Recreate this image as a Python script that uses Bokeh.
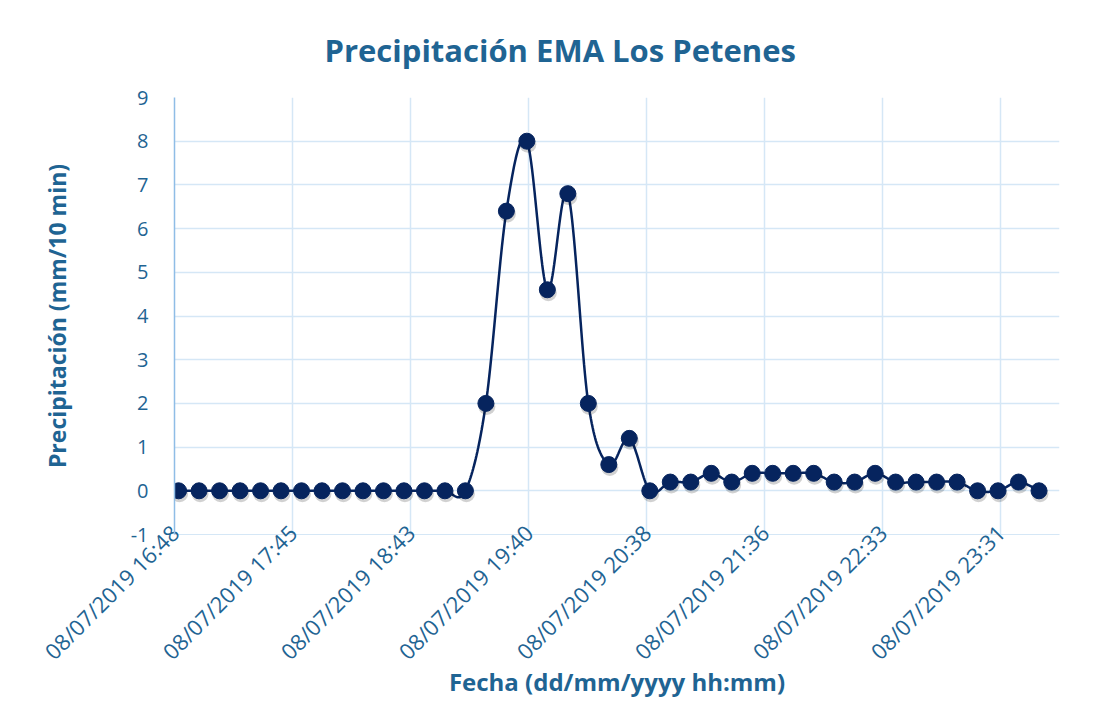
import math
import numpy as np
import pandas as pd
from bokeh.plotting import figure
from bokeh.models import FixedTicker, Range1d, ColumnDataSource
from bokeh.embed import file_html
from bokeh.resources import INLINE

# ---------------- data ----------------
date = "2019-07-08"
times = ["16:50", "17:00", "17:10", "17:20", "17:30", "17:40", "17:50",
         "18:00", "18:10", "18:20", "18:30", "18:40", "18:50",
         "19:00", "19:10", "19:20", "19:30", "19:40", "19:50",
         "20:00", "20:10", "20:20", "20:30", "20:40", "20:50",
         "21:00", "21:10", "21:20", "21:30", "21:40", "21:50",
         "22:00", "22:10", "22:20", "22:30", "22:40", "22:50",
         "23:00", "23:10", "23:20", "23:30", "23:40", "23:50"]
precip = [0, 0, 0, 0, 0, 0, 0,
          0, 0, 0, 0, 0, 0,
          0, 0, 2.0, 6.4, 8.0, 4.6,
          6.8, 2.0, 0.6, 1.2, 0.0, 0.2,
          0.2, 0.4, 0.2, 0.4, 0.4, 0.4,
          0.4, 0.2, 0.2, 0.4, 0.2, 0.2,
          0.2, 0.2, 0.0, 0.0, 0.2, 0.0]
tick_times = ["16:48:00", "17:45:36", "18:43:12", "19:40:48",
              "20:38:24", "21:36:00", "22:33:36", "23:31:12"]
tick_labels = ["08/07/2019 16:48", "08/07/2019 17:45", "08/07/2019 18:43",
               "08/07/2019 19:40", "08/07/2019 20:38", "08/07/2019 21:36",
               "08/07/2019 22:33", "08/07/2019 23:31"]
x_start, x_end = "16:48:00", "24:00:00"
y_ticks = list(range(-1, 10))
y_labels = [str(v) for v in y_ticks]

# ---------------- helpers ----------------
epoch = pd.Timestamp("1970-01-01")
def to_ms(hhmm):
    t = pd.Timestamp(date) + pd.to_timedelta(hhmm if hhmm.count(":") == 2 else hhmm + ":00")
    return (t - epoch) / pd.Timedelta(milliseconds=1)

xs = np.array([to_ms(h) for h in times])
ys = np.array(precip, dtype=float)
tick_ms = [to_ms(h) for h in tick_times]
x0, x1 = to_ms(x_start), to_ms(x_end)

BL, BR, BT, BB = 174, 30, 96, 180
FW, FH = 885, 438
W, H = BL + FW + BR, BT + FH + BB

# smooth (Excel-like Bezier) curve computed in screen-proportional space
sx = FW / (x1 - x0)
sy = FH / 10.0
px = (xs - x0) * sx
py = ys * sy
cx, cy = [], []
n = len(px)
for i in range(n - 1):
    p0 = (px[max(i - 1, 0)], py[max(i - 1, 0)])
    p1 = (px[i], py[i])
    p2 = (px[i + 1], py[i + 1])
    p3 = (px[min(i + 2, n - 1)], py[min(i + 2, n - 1)])
    c1 = (p1[0] + (p2[0] - p0[0]) / 6, p1[1] + (p2[1] - p0[1]) / 6)
    c2 = (p2[0] - (p3[0] - p1[0]) / 6, p2[1] - (p3[1] - p1[1]) / 6)
    for t in np.linspace(0, 1, 24, endpoint=(i == n - 2)):
        a = (1 - t) ** 3; b = 3 * (1 - t) ** 2 * t; c = 3 * (1 - t) * t ** 2; d = t ** 3
        cx.append(a * p1[0] + b * c1[0] + c * c2[0] + d * p2[0])
        cy.append(a * p1[1] + b * c1[1] + c * c2[1] + d * p2[1])
curve_x = np.array(cx) / sx + x0
curve_y = np.array(cy) / sy

# ---------------- figure ----------------
TXT = "#1f6493"
FONT = "Open Sans"
GRID = "#d5e7f6"
NAVY = "#06245e"

p = figure(width=W, height=H, x_axis_type="datetime",
           output_backend="svg", toolbar_location=None,
           x_range=Range1d(x0, x1), y_range=Range1d(-1, 9),
           min_border_left=BL, min_border_right=BR,
           min_border_top=BT, min_border_bottom=BB)
p.outline_line_color = None

p.title.text = "Precipitación EMA Los Petenes"
p.title.text_font = FONT
p.title.text_font_size = "31px"
p.title.text_font_style = "bold"
p.title.text_color = TXT
p.title.align = "left"
p.title.offset = 150
p.title.standoff = 53

p.xaxis.ticker = FixedTicker(ticks=tick_ms)
p.xaxis.major_label_overrides = {t: l for t, l in zip(tick_ms, tick_labels)}
p.xaxis.major_label_orientation = math.pi / 4
p.xaxis.axis_label = "Fecha (dd/mm/yyyy hh:mm)"
p.yaxis.ticker = FixedTicker(ticks=y_ticks)
p.yaxis.major_label_overrides = {v: s for v, s in zip(y_ticks, y_labels)}
p.yaxis.axis_label = "Precipitación (mm/10 min)"

for ax in (p.xaxis[0], p.yaxis[0]):
    ax.major_label_text_font = FONT
    ax.major_label_text_font_size = "20px"
    ax.major_label_text_color = TXT
    ax.axis_label_text_font = FONT
    ax.axis_label_text_font_size = "23px"
    ax.axis_label_text_font_style = "bold"
    ax.axis_label_text_color = TXT
    ax.major_tick_line_color = None
    ax.minor_tick_line_color = None

p.xaxis.major_label_text_font_size = "22px"
p.xaxis.axis_label_text_font_size = "24px"
p.xaxis.axis_line_color = GRID
p.xaxis.major_label_standoff = -12
p.xaxis.axis_label_standoff = -14
p.yaxis.axis_line_color = "#8fbde6"
p.yaxis.axis_line_width = 1.5
p.yaxis.major_label_standoff = 20
p.yaxis.axis_label_standoff = 55

p.grid.grid_line_color = GRID
p.grid.grid_line_width = 1.5

p.line(curve_x, curve_y, line_color=NAVY, line_width=2.5)
# soft drop shadow under the markers (offset ~1px right, 3px down)
shadow = ColumnDataSource(dict(x=xs + 1.0 / sx, y=ys - 3.0 / sy))
p.scatter("x", "y", source=shadow, size=17, fill_color="#000000",
          fill_alpha=0.18, line_color=None)
src = ColumnDataSource(dict(x=xs, y=ys))
p.scatter("x", "y", source=src, size=16, fill_color=NAVY, line_color=NAVY)

open("out.html", "w").write(file_html(p, INLINE))
